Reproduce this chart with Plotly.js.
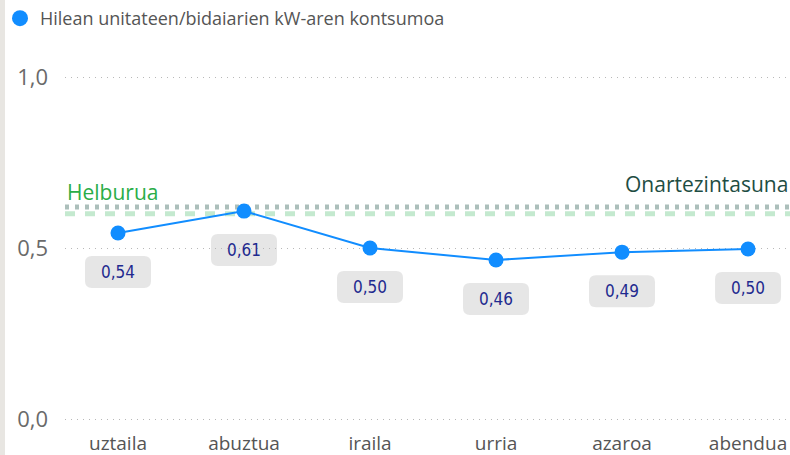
<!DOCTYPE html>
<html><head><meta charset="utf-8">
<script src="https://cdn.plot.ly/plotly-3.0.1.min.js"></script>
<style>
html,body{margin:0;padding:0;background:#fff;}
#strip{position:absolute;left:0;top:0;width:5px;height:455px;background:#e8e6e2;z-index:5;}
#chart{position:absolute;left:0;top:0;width:790px;height:455px;}
</style></head>
<body>
<div id="chart"></div><div id="strip"></div>
<script>
const months = ["uztaila","abuztua","iraila","urria","azaroa","abendua"];
const consumption = [0.544, 0.608, 0.500, 0.465, 0.488, 0.497];
const labels = ["0,54","0,61","0,50","0,46","0,49","0,50"];
const targetValue = [0.60];
const toleranceValue = [0.62];
const yTicks = [0, 0.5, 1.0];
const yTickText = ["0,0","0,5","1,0"];
const seriesName = "Hilean unitateen/bidaiarien kW-aren kontsumoa";

const trace = {
  x: months, y: consumption, type: "scatter", mode: "lines+markers",
  name: seriesName, showlegend: false,
  line: {color: "#118dff", width: 2},
  marker: {color: "#118dff", size: 15},
  hoverinfo: "none"
};
const legendTrace = {
  x: [null], y: [null], type: "scatter", mode: "markers", name: seriesName,
  marker: {color: "#118dff", size: 19}, showlegend: true
};

const annotations = months.map((m, i) => ({
  x: m, y: consumption[i], xref: "x", yref: "y",
  text: labels[i], showarrow: false, yshift: -39,
  font: {family: "DejaVu Sans Condensed, Noto Sans", size: 17, color: "#1f2a8f"}
}));
annotations.push({
  xref: "paper", yref: "y", x: 0.0, y: targetValue[0], xanchor: "left", yanchor: "bottom",
  yshift: 6, text: "Helburua", showarrow: false,
  font: {family: "Open Sans, Noto Sans", size: 21, color: "#2aad48"}
});
annotations.push({
  xref: "paper", yref: "y", x: 1.0, y: toleranceValue[0], xanchor: "right", yanchor: "bottom",
  yshift: 7, text: "Onartezintasuna", showarrow: false,
  font: {family: "Open Sans, Noto Sans", size: 21, color: "#1e4d43"}
});

function roundRect(w, top, bot, r) {
  const x0 = -w/2, x1 = w/2;
  return `M ${x0+r},${top} L ${x1-r},${top} Q ${x1},${top} ${x1},${top-r} L ${x1},${bot+r} Q ${x1},${bot} ${x1-r},${bot} L ${x0+r},${bot} Q ${x0},${bot} ${x0},${bot+r} L ${x0},${top-r} Q ${x0},${top} ${x0+r},${top} Z`;
}

const shapes = [
  {type: "line", xref: "paper", yref: "y", x0: 0, x1: 1, y0: targetValue[0], y1: targetValue[0],
   line: {color: "#c4e9cf", width: 5, dash: "10px,10px"}, layer: "below"},
  {type: "line", xref: "paper", yref: "y", x0: 0, x1: 1, y0: toleranceValue[0], y1: toleranceValue[0],
   line: {color: "#acbfbb", width: 5, dash: "4px,6px"}, layer: "below"}
];
months.forEach((m, i) => {
  shapes.push({type: "path", xref: "x", yref: "y", xsizemode: "pixel", ysizemode: "pixel",
    xanchor: i, yanchor: consumption[i], path: roundRect(66, -23, -55, 7),
    fillcolor: "#e6e6e6", line: {width: 0}, layer: "below"});
});

const layout = {
  width: 790, height: 455,
  margin: {l: 65, r: 0, t: 60, b: 25},
  paper_bgcolor: "#fff", plot_bgcolor: "#fff",
  separators: ", ",
  showlegend: true,
  legend: {orientation: "h", x: 0.0, xref: "container", y: 1, yref: "container", xanchor: "left", yanchor: "top",
    font: {family: "Open Sans, Noto Sans", size: 18, color: "#555"},
    itemwidth: 30, bgcolor: "rgba(0,0,0,0)"},
  xaxis: {type: "category", range: [-0.4206, 5.333], showgrid: false, zeroline: false, showline: false,
    ticks: "", tickfont: {family: "Open Sans, Noto Sans", size: 19, color: "#555"}, fixedrange: true},
  yaxis: {range: [-0.032, 1.0497], tickvals: yTicks, ticktext: yTickText, showgrid: true,
    gridcolor: "#b8b8b8", griddash: "1px,5px", gridwidth: 1, zeroline: false, showline: false,
    ticks: "", ticklabelstandoff: 16,
    tickfont: {family: "Open Sans, Noto Sans", size: 22, color: "#6a6a6a"}, fixedrange: true},
  shapes: shapes,
  annotations: annotations
};

Plotly.newPlot("chart", [trace, legendTrace], layout, {displayModeBar: false, staticPlot: true});
</script>
</body></html>
